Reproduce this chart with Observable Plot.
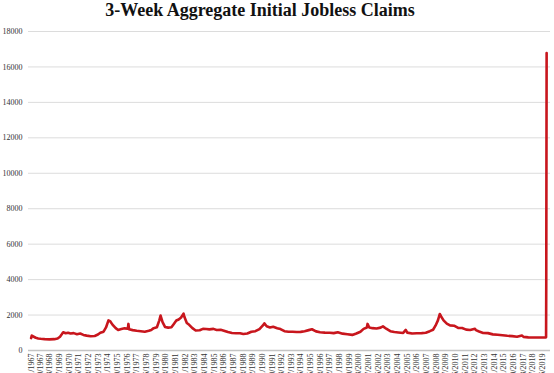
<!DOCTYPE html>
<html><head><meta charset="utf-8">
<script src="https://cdn.jsdelivr.net/npm/d3@7"></script>
<script src="https://cdn.jsdelivr.net/npm/@observablehq/plot@0.6"></script>
<style>
body{margin:0;background:#fff;width:554px;height:373px;overflow:hidden}
#title{font-family:"Liberation Serif","DejaVu Serif",serif;font-weight:bold;font-size:18px;text-align:center;width:520px;height:24px;line-height:20px;color:#111;}
#chart svg{display:block}
</style></head><body>
<div id="title">3-Week Aggregate Initial Jobless Claims</div>
<div id="chart"></div>
<script>
// weeks (approximate sample dates) and 3-week aggregate initial claims (thousands)
const dates = [
"1967-01-21","1967-02-15","1967-04-15","1967-07-15","1967-10-15","1968-01-15","1968-06-15","1968-12-15",
"1969-06-15","1969-10-15","1970-01-15","1970-03-15","1970-05-15","1970-08-15","1970-11-15","1971-02-15",
"1971-06-15","1971-10-15","1972-02-15","1972-06-15","1972-10-15","1973-03-15","1973-08-15","1973-12-15",
"1974-03-15","1974-07-15","1974-10-15","1975-01-15","1975-03-15","1975-06-15","1975-10-15","1976-01-15",
"1976-05-15","1976-09-15","1977-01-15","1977-02-05","1977-03-01","1977-07-15","1977-12-15","1978-05-15",
"1978-10-15","1979-03-15","1979-06-15","1979-09-15","1980-01-15","1980-04-15","1980-06-01","1980-08-15",
"1980-11-15","1981-03-15","1981-07-15","1981-10-15","1982-01-15","1982-04-15","1982-07-15","1982-10-15",
"1982-11-15","1983-02-15","1983-05-15","1983-09-15","1984-01-15","1984-06-15","1984-10-15","1985-02-15",
"1985-06-15","1985-11-15","1986-03-15","1986-08-15","1986-12-15","1987-05-15","1987-10-15","1988-03-15",
"1988-08-15","1988-12-15","1989-05-15","1989-10-15","1990-03-15","1990-08-15","1990-12-15","1991-02-15",
"1991-05-15","1991-09-15","1992-01-15","1992-06-15","1992-10-15","1993-03-15","1993-08-15","1994-01-15",
"1994-06-15","1994-11-15","1995-04-15","1995-09-15","1996-01-15","1996-06-15","1996-11-15","1997-05-15",
"1997-11-15","1998-04-15","1998-09-15","1999-03-15","1999-09-15","2000-03-15","2000-08-15","2001-01-15",
"2001-05-15","2001-09-15","2001-10-10","2001-12-15","2002-04-15","2002-09-15","2003-02-15","2003-05-15",
"2003-09-15","2004-02-15","2004-07-15","2004-12-15","2005-06-15","2005-09-20","2005-11-15","2006-05-15",
"2006-11-15","2007-05-15","2007-10-15","2008-03-15","2008-07-15","2008-10-15","2009-01-15","2009-03-25",
"2009-05-15","2009-08-15","2009-12-15","2010-04-15","2010-09-15","2011-02-15","2011-07-15","2011-12-15",
"2012-05-15","2012-11-10","2012-12-15","2013-04-15","2013-09-15","2014-03-15","2014-09-15","2015-03-15",
"2015-09-15","2016-03-15","2016-09-15","2017-03-15","2017-09-15","2017-11-15","2018-05-15","2018-11-15",
"2019-05-15","2019-11-15","2020-03-07","2020-03-14","2020-03-21","2020-03-28","2020-04-04"
];
const claims = [
700,840,790,720,680,660,640,630,
640,680,780,900,1030,970,1000,960,
980,920,960,880,840,800,820,900,
1000,1060,1300,1700,1660,1460,1260,1160,
1210,1250,1230,1500,1200,1150,1110,1090,
1060,1110,1160,1260,1310,1700,1970,1600,
1330,1290,1310,1500,1690,1750,1860,2080,
1900,1550,1450,1260,1130,1140,1220,1210,
1190,1220,1160,1170,1120,1040,990,970,
970,930,960,1060,1090,1210,1400,1530,
1370,1300,1340,1260,1210,1090,1060,1060,
1040,1050,1090,1150,1200,1080,1030,1010,
1000,980,1030,950,920,880,960,1060,
1220,1300,1500,1300,1260,1240,1290,1360,
1230,1090,1040,1020,990,1160,1010,960,
970,980,1000,1090,1170,1400,1700,2060,
1920,1700,1520,1420,1400,1270,1270,1180,
1160,1230,1150,1070,990,980,910,890,
860,830,810,780,850,770,740,730,
730,730,740,760,3800,10450,16780
];
const yTicks = [0,2000,4000,6000,8000,10000,12000,14000,16000,18000];
const xTickLabels = [
"1/21/1967","12/30/1967","12/28/1968","12/27/1969","12/26/1970","12/25/1971","12/23/1972","12/22/1973",
"12/21/1974","12/20/1975","12/18/1976","12/17/1977","12/16/1978","12/15/1979","12/13/1980","12/12/1981",
"12/11/1982","12/10/1983","12/8/1984","12/7/1985","12/6/1986","12/5/1987","12/3/1988","12/2/1989",
"12/1/1990","11/30/1991","11/28/1992","11/27/1993","11/26/1994","11/25/1995","11/23/1996","11/22/1997",
"11/21/1998","11/20/1999","11/18/2000","11/17/2001","11/16/2002","11/15/2003","11/13/2004","11/12/2005",
"11/11/2006","11/10/2007","11/8/2008","11/7/2009","11/6/2010","11/5/2011","11/3/2012","11/2/2013",
"11/1/2014","10/31/2015","10/29/2016","10/28/2017","10/27/2018","10/26/2019"
];

const parseISO = d3.utcParse("%Y-%m-%d");
const parseUS = d3.utcParse("%m/%d/%Y");
const fmtUS = d3.utcFormat("%-m/%-d/%Y");
const data = dates.map((d, i) => ({date: parseISO(d), value: claims[i]}));
const xTicks = xTickLabels.map(parseUS);

const chart = Plot.plot({
  width: 554,
  height: 366,
  marginTop: 7,
  marginLeft: 28,
  marginRight: 4,
  marginBottom: 40,
  x: {type: "utc", domain: [new Date(Date.UTC(1966, 9, 15)), new Date(Date.UTC(2020, 7, 28))], label: null},
  y: {domain: [0, 18000], label: null},
  style: {fontFamily: "'Liberation Serif', 'DejaVu Serif', serif", fontSize: "8px", color: "#333", background: "#fff"},
  marks: [
    Plot.gridY(yTicks, {stroke: "#dcdcdc", strokeOpacity: 1, strokeWidth: 1}),
    Plot.axisY(yTicks, {tickSize: 0, tickPadding: 6, tickFormat: d => String(d), fill: "#333", label: null}),
    Plot.ruleY([0], {stroke: "#c4c4c4", strokeWidth: 1.5}),
    Plot.axisX(xTicks, {tickSize: 0, tickPadding: 3, tickRotate: -90, tickFormat: fmtUS, fill: "#333", label: null}),
    Plot.lineY(data, {x: "date", y: "value", stroke: "#c8161d", strokeWidth: 2.6, strokeLinejoin: "round"})
  ]
});
document.getElementById("chart").appendChild(chart);
</script>
</body></html>
